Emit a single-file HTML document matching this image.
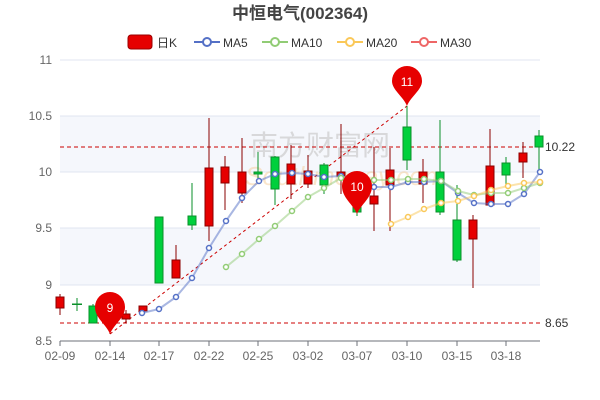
<!DOCTYPE html>
<html><head><meta charset="utf-8"><style>body{margin:0;background:#fff}svg{display:block;font-family:"Liberation Sans","Noto Sans CJK SC",sans-serif}</style></head><body>
<svg width="600" height="400" xmlns="http://www.w3.org/2000/svg">
<text x="300" y="19" text-anchor="middle" font-size="17" font-weight="bold" fill="#444">中恒电气(002364)</text>
<g font-size="12" fill="#333">
<rect x="128" y="35" width="24" height="14" rx="3" fill="#e60000" stroke="#900" stroke-width="1"/><text x="157" y="47">日K</text>
<line x1="194" y1="42" x2="220" y2="42" stroke="#5470c6" stroke-width="2"/><circle cx="207" cy="42" r="4" fill="#fff" stroke="#5470c6" stroke-width="2"/><text x="223" y="47">MA5</text>
<line x1="262" y1="42" x2="288" y2="42" stroke="#91cc75" stroke-width="2"/><circle cx="275" cy="42" r="4" fill="#fff" stroke="#91cc75" stroke-width="2"/><text x="291" y="47">MA10</text>
<line x1="337" y1="42" x2="363" y2="42" stroke="#fac858" stroke-width="2"/><circle cx="350" cy="42" r="4" fill="#fff" stroke="#fac858" stroke-width="2"/><text x="366" y="47">MA20</text>
<line x1="411" y1="42" x2="437" y2="42" stroke="#ee6666" stroke-width="2"/><circle cx="424" cy="42" r="4" fill="#fff" stroke="#ee6666" stroke-width="2"/><text x="440" y="47">MA30</text>
</g>
<rect x="60" y="116" width="480" height="56" fill="#f5f7fc"/>
<rect x="60" y="228" width="480" height="57" fill="#f5f7fc"/>
<g stroke="#e0e6f1"><line x1="60" y1="60" x2="540" y2="60"/><line x1="60" y1="116" x2="540" y2="116"/><line x1="60" y1="172" x2="540" y2="172"/><line x1="60" y1="228" x2="540" y2="228"/><line x1="60" y1="285" x2="540" y2="285"/></g>
<text x="250" y="155" font-size="28" fill="#ccc" opacity="0.7">南方财富网</text>
<text x="245" y="185" font-size="26" font-style="italic" fill="#f5c890" opacity="0.45">Southmoney.com</text>
<g font-size="12" fill="#666" text-anchor="end"><text x="52" y="64">11</text><text x="52" y="120">10.5</text><text x="52" y="176">10</text><text x="52" y="232">9.5</text><text x="52" y="289">9</text><text x="52" y="345">8.5</text></g>
<line x1="60" y1="341" x2="540" y2="341" stroke="#6e7079"/>
<g stroke="#6e7079"><line x1="60" y1="341" x2="60" y2="346"/><line x1="110" y1="341" x2="110" y2="346"/><line x1="159" y1="341" x2="159" y2="346"/><line x1="209" y1="341" x2="209" y2="346"/><line x1="258" y1="341" x2="258" y2="346"/><line x1="308" y1="341" x2="308" y2="346"/><line x1="357" y1="341" x2="357" y2="346"/><line x1="407" y1="341" x2="407" y2="346"/><line x1="457" y1="341" x2="457" y2="346"/><line x1="506" y1="341" x2="506" y2="346"/></g>
<g font-size="12" fill="#666" text-anchor="middle"><text x="60" y="360">02-09</text><text x="110" y="360">02-14</text><text x="159" y="360">02-17</text><text x="209" y="360">02-22</text><text x="258" y="360">02-25</text><text x="308" y="360">03-02</text><text x="357" y="360">03-07</text><text x="407" y="360">03-10</text><text x="457" y="360">03-15</text><text x="506" y="360">03-18</text></g>
<g stroke="#c00" stroke-dasharray="4,3" fill="none"><line x1="60" y1="147" x2="540" y2="147"/><line x1="60" y1="323" x2="540" y2="323"/><line x1="110" y1="334" x2="407" y2="106" stroke-dasharray="3,3"/></g>
<text x="545" y="151" font-size="12" fill="#333">10.22</text>
<text x="545" y="327" font-size="12" fill="#333">8.65</text>
<g id="c">
<!-- x, boxTop, boxBot, wickTop, wickBot, up -->
</g>
<g stroke-width="1">
<line x1="60" y1="294" x2="60" y2="315" stroke="#8a0000"/><rect x="56" y="297" width="8" height="11" fill="#e60000" stroke="#8a0000"/>
<line x1="77" y1="298" x2="77" y2="311" stroke="#0a8f2a"/><rect x="72" y="303.5" width="10" height="1.5" fill="#0a8f2a"/>
<line x1="93" y1="304" x2="93" y2="323" stroke="#0a8f2a"/><rect x="89" y="306" width="8" height="17" fill="#00d03c" stroke="#0a8f2a"/>
<line x1="110" y1="315" x2="110" y2="334" stroke="#8a0000"/>
<line x1="126" y1="310" x2="126" y2="323" stroke="#8a0000"/><rect x="122" y="314" width="8" height="5" fill="#e60000" stroke="#8a0000"/>
<rect x="139" y="306" width="8" height="5" fill="#e60000" stroke="#8a0000"/>
<rect x="155" y="217" width="8" height="66" fill="#00d03c" stroke="#0a8f2a"/>
<line x1="176" y1="245" x2="176" y2="278" stroke="#8a0000"/><rect x="172" y="260" width="8" height="18" fill="#e60000" stroke="#8a0000"/>
<line x1="192" y1="183" x2="192" y2="230" stroke="#0a8f2a"/><rect x="188" y="216" width="8" height="9" fill="#00d03c" stroke="#0a8f2a"/>
<line x1="209" y1="118" x2="209" y2="241" stroke="#8a0000"/><rect x="205" y="168" width="8" height="58" fill="#e60000" stroke="#8a0000"/>
<line x1="225" y1="156" x2="225" y2="210" stroke="#8a0000"/><rect x="221" y="167" width="8" height="16" fill="#e60000" stroke="#8a0000"/>
<line x1="242" y1="138" x2="242" y2="203" stroke="#8a0000"/><rect x="238" y="172" width="8" height="21" fill="#e60000" stroke="#8a0000"/>
<line x1="258" y1="152" x2="258" y2="180" stroke="#0a8f2a"/><rect x="254" y="172" width="8" height="2" fill="#00d03c" stroke="#0a8f2a"/>
<line x1="275" y1="156" x2="275" y2="205" stroke="#0a8f2a"/><rect x="271" y="157" width="8" height="32" fill="#00d03c" stroke="#0a8f2a"/>
<line x1="291" y1="145" x2="291" y2="199" stroke="#8a0000"/><rect x="287" y="164" width="8" height="20" fill="#e60000" stroke="#8a0000"/>
<line x1="308" y1="155" x2="308" y2="188" stroke="#8a0000"/><rect x="304" y="171" width="8" height="13" fill="#e60000" stroke="#8a0000"/>
<line x1="324" y1="163" x2="324" y2="194" stroke="#0a8f2a"/><rect x="320" y="165" width="8" height="20" fill="#00d03c" stroke="#0a8f2a"/>
<line x1="341" y1="124" x2="341" y2="194" stroke="#8a0000"/><rect x="337" y="172" width="8" height="4" fill="#e60000" stroke="#8a0000"/>
<line x1="357" y1="190" x2="357" y2="216" stroke="#0a8f2a"/><rect x="353" y="196" width="8" height="16" fill="#00d03c" stroke="#0a8f2a"/>
<line x1="374" y1="147" x2="374" y2="231" stroke="#8a0000"/><rect x="370" y="196" width="8" height="8" fill="#e60000" stroke="#8a0000"/>
<line x1="390" y1="148" x2="390" y2="231" stroke="#8a0000"/><rect x="386" y="170" width="8" height="15" fill="#e60000" stroke="#8a0000"/>
<line x1="407" y1="106" x2="407" y2="170" stroke="#0a8f2a"/><rect x="403" y="127" width="8" height="33" fill="#00d03c" stroke="#0a8f2a"/>
<line x1="423" y1="159" x2="423" y2="203" stroke="#8a0000"/><rect x="419" y="172" width="8" height="12" fill="#e60000" stroke="#8a0000"/>
<line x1="440" y1="120" x2="440" y2="215" stroke="#0a8f2a"/><rect x="436" y="172" width="8" height="40" fill="#00d03c" stroke="#0a8f2a"/>
<line x1="457" y1="185" x2="457" y2="262" stroke="#0a8f2a"/><rect x="453" y="220" width="8" height="40" fill="#00d03c" stroke="#0a8f2a"/>
<line x1="473" y1="215" x2="473" y2="288" stroke="#8a0000"/><rect x="469" y="220" width="8" height="19" fill="#e60000" stroke="#8a0000"/>
<line x1="490" y1="129" x2="490" y2="205" stroke="#8a0000"/><rect x="486" y="166" width="8" height="39" fill="#e60000" stroke="#8a0000"/>
<line x1="506" y1="157" x2="506" y2="185" stroke="#0a8f2a"/><rect x="502" y="163" width="8" height="12" fill="#00d03c" stroke="#0a8f2a"/>
<line x1="523" y1="142" x2="523" y2="178" stroke="#8a0000"/><rect x="519" y="153" width="8" height="9" fill="#e60000" stroke="#8a0000"/>
<line x1="539" y1="130" x2="539" y2="170" stroke="#0a8f2a"/><rect x="535" y="136" width="8" height="11" fill="#00d03c" stroke="#0a8f2a"/>
</g>
<g fill="none" stroke-width="2" stroke-linejoin="round">
<polyline stroke="#5470c6" stroke-opacity="0.5" points="142,313 159,309 176,297 192,278 209,248 226,221 242,198 259,181 275,174 292,173 308,174 324,177 341,176 357,186 374,187 391,187 408,182 424,182 441,181 458,193 474,203 491,204 508,204 524,194 540,172"/>
<polyline stroke="#91cc75" stroke-opacity="0.5" points="226,267 242,254 259,239 275,226 292,211 308,197 324,188 341,178 357,178 374,180 391,180 408,179 424,179 441,181 458,191 474,195 491,193 508,193 524,188 540,183"/>
<polyline stroke="#fac858" stroke-opacity="0.5" points="391,224 408,217 424,209 441,203 458,201 474,196 491,190 508,186 524,183 540,182"/>
</g>
<g fill="#fff" stroke-width="1.5">
<g stroke="#5470c6"><circle cx="142" cy="313" r="2.5"/><circle cx="159" cy="309" r="2.5"/><circle cx="176" cy="297" r="2.5"/><circle cx="192" cy="278" r="2.5"/><circle cx="209" cy="248" r="2.5"/><circle cx="226" cy="221" r="2.5"/><circle cx="242" cy="198" r="2.5"/><circle cx="259" cy="181" r="2.5"/><circle cx="275" cy="174" r="2.5"/><circle cx="292" cy="173" r="2.5"/><circle cx="308" cy="174" r="2.5"/><circle cx="324" cy="177" r="2.5"/><circle cx="341" cy="176" r="2.5"/><circle cx="374" cy="187" r="2.5"/><circle cx="391" cy="187" r="2.5"/><circle cx="408" cy="182" r="2.5"/><circle cx="424" cy="182" r="2.5"/><circle cx="441" cy="181" r="2.5"/><circle cx="458" cy="193" r="2.5"/><circle cx="474" cy="203" r="2.5"/><circle cx="491" cy="204" r="2.5"/><circle cx="508" cy="204" r="2.5"/><circle cx="524" cy="194" r="2.5"/><circle cx="540" cy="172" r="2.5"/></g>
<g stroke="#91cc75"><circle cx="226" cy="267" r="2.5"/><circle cx="242" cy="254" r="2.5"/><circle cx="259" cy="239" r="2.5"/><circle cx="275" cy="226" r="2.5"/><circle cx="292" cy="211" r="2.5"/><circle cx="308" cy="197" r="2.5"/><circle cx="324" cy="188" r="2.5"/><circle cx="341" cy="178" r="2.5"/><circle cx="374" cy="180" r="2.5"/><circle cx="391" cy="180" r="2.5"/><circle cx="408" cy="179" r="2.5"/><circle cx="424" cy="179" r="2.5"/><circle cx="441" cy="181" r="2.5"/><circle cx="458" cy="191" r="2.5"/><circle cx="474" cy="195" r="2.5"/><circle cx="491" cy="193" r="2.5"/><circle cx="508" cy="193" r="2.5"/><circle cx="524" cy="188" r="2.5"/><circle cx="540" cy="183" r="2.5"/></g>
<g stroke="#fac858"><circle cx="391" cy="224" r="2.5"/><circle cx="408" cy="217" r="2.5"/><circle cx="424" cy="209" r="2.5"/><circle cx="441" cy="203" r="2.5"/><circle cx="458" cy="201" r="2.5"/><circle cx="474" cy="196" r="2.5"/><circle cx="491" cy="190" r="2.5"/><circle cx="508" cy="186" r="2.5"/><circle cx="524" cy="183" r="2.5"/><circle cx="540" cy="182" r="2.5"/></g>
</g>
<g fill="#e60000">
<path d="M110,334 C106,324 95,318 95,307 A15,15 0 1 1 125,307 C125,318 114,324 110,334Z"/>
<path d="M357,214 C353,204 342,198 342,186 A15,15 0 1 1 372,186 C372,198 361,204 357,214Z"/>
<path d="M407,106 C403,96 392,90 392,81 A15,15 0 1 1 422,81 C422,90 411,96 407,106Z"/>
</g>
<g fill="#fff" font-size="12" text-anchor="middle"><text x="110" y="312">9</text><text x="357" y="191">10</text><text x="407" y="86">11</text></g>
</svg>
</body></html>
